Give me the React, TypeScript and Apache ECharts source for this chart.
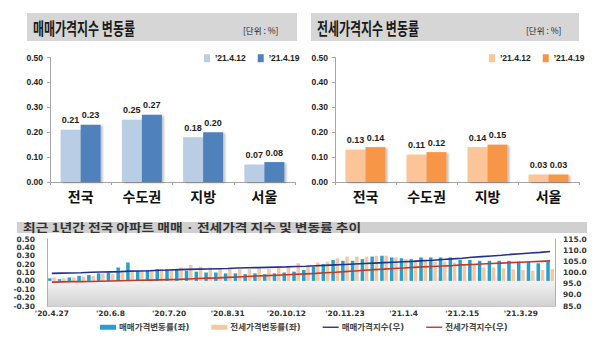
import React, { useEffect, useRef } from 'react';
import * as echarts from 'echarts';

const regions = ['전국', '수도권', '지방', '서울'];
const saleApr12 = [0.21, 0.25, 0.18, 0.07];
const saleApr19 = [0.23, 0.27, 0.2, 0.08];
const jeonseApr12 = [0.13, 0.11, 0.14, 0.03];
const jeonseApr19 = [0.14, 0.12, 0.15, 0.03];

const weeks = [
  "'20.4.27", "'20.5.4", "'20.5.11", "'20.5.18", "'20.5.25", "'20.6.1", "'20.6.8", "'20.6.15", "'20.6.22", "'20.6.29",
  "'20.7.6", "'20.7.13", "'20.7.20", "'20.7.27", "'20.8.3", "'20.8.10", "'20.8.17", "'20.8.24", "'20.8.31", "'20.9.7",
  "'20.9.14", "'20.9.21", "'20.9.28", "'20.10.5", "'20.10.12", "'20.10.19", "'20.10.26", "'20.11.2", "'20.11.9", "'20.11.16",
  "'20.11.23", "'20.11.30", "'20.12.7", "'20.12.14", "'20.12.21", "'20.12.28", "'21.1.4", "'21.1.11", "'21.1.18", "'21.1.25",
  "'21.2.1", "'21.2.8", "'21.2.15", "'21.2.22", "'21.3.1", "'21.3.8", "'21.3.15", "'21.3.22", "'21.3.29", "'21.4.5",
  "'21.4.12", "'21.4.19",
];
const saleChange = [
  0.03, 0.02, 0.04, 0.06, 0.07, 0.09, 0.1, 0.16, 0.22, 0.12,
  0.13, 0.14, 0.14, 0.13, 0.12, 0.11, 0.1, 0.1, 0.09, 0.09,
  0.08, 0.09, 0.08, 0.09, 0.1, 0.11, 0.13, 0.17, 0.2, 0.25,
  0.24, 0.24, 0.26, 0.29, 0.3, 0.28, 0.27, 0.26, 0.28, 0.28,
  0.28, 0.28, 0.25, 0.25, 0.24, 0.24, 0.24, 0.24, 0.23, 0.23,
  0.21, 0.23,
];
const jeonseChange = [
  0.04, 0.03, 0.04, 0.05, 0.06, 0.09, 0.08, 0.1, 0.11, 0.12,
  0.12, 0.14, 0.14, 0.16, 0.19, 0.17, 0.16, 0.15, 0.14, 0.14,
  0.14, 0.15, 0.14, 0.16, 0.16, 0.21, 0.18, 0.22, 0.23, 0.27,
  0.29, 0.29, 0.29, 0.3, 0.3, 0.28, 0.26, 0.25, 0.24, 0.23,
  0.23, 0.22, 0.19, 0.19, 0.16, 0.16, 0.15, 0.14, 0.13, 0.12,
  0.13, 0.14,
];
const saleIndex = [
  99.6, 99.7, 99.8, 99.9, 100.1, 100.2, 100.3, 100.4, 100.6, 100.7,
  100.8, 101.0, 101.1, 101.3, 101.4, 101.5, 101.6, 101.7, 101.8, 102.0,
  102.1, 102.2, 102.3, 102.4, 102.5, 102.7, 102.8, 103.0, 103.2, 103.4,
  103.6, 103.8, 104.0, 104.2, 104.4, 104.6, 104.8, 105.0, 105.3, 105.5,
  105.8, 106.1, 106.4, 106.8, 107.1, 107.4, 107.7, 108.1, 108.4, 108.7,
  109.0, 109.4,
];
const jeonseIndex = [
  95.7, 95.8, 95.9, 95.9, 96.0, 96.1, 96.2, 96.3, 96.4, 96.5,
  96.6, 96.7, 96.8, 96.9, 97.1, 97.3, 97.5, 97.6, 97.8, 98.0,
  98.2, 98.4, 98.6, 98.8, 99.0, 99.2, 99.4, 99.6, 99.9, 100.1,
  100.4, 100.7, 101.0, 101.3, 101.5, 101.8, 102.0, 102.3, 102.5, 102.7,
  102.9, 103.1, 103.4, 103.6, 103.8, 104.0, 104.2, 104.4, 104.6, 104.8,
  105.0, 105.2,
];

const SANS = '"Liberation Sans", "Noto Sans CJK KR", sans-serif';
const WIDE = '"DejaVu Sans", "Noto Sans CJK KR", sans-serif';

function topBar(name: string, data: number[], color: string, axis: number) {
  return {
    name,
    type: 'bar',
    xAxisIndex: axis,
    yAxisIndex: axis,
    data,
    barWidth: 20,
    barGap: '0%',
    itemStyle: { color, shadowColor: 'rgba(0,0,0,0.25)', shadowOffsetX: 2, shadowOffsetY: 1, shadowBlur: 2 },
    label: {
      show: true,
      position: 'top',
      distance: 5,
      fontSize: 9,
      fontWeight: 'bold',
      fontFamily: SANS,
      color: '#222',
      formatter: (p: any) => Number(p.value).toFixed(2),
    },
  };
}

function topX(grid: number) {
  return {
    type: 'category',
    gridIndex: grid,
    data: regions,
    axisLine: { lineStyle: { color: '#a6a6a6' } },
    axisTick: { show: true, length: 3, lineStyle: { color: '#a6a6a6' } },
    axisLabel: { fontSize: 14, fontWeight: 'bold', color: '#111', margin: 8, fontFamily: SANS },
  };
}

function topY(grid: number) {
  return {
    type: 'value',
    gridIndex: grid,
    min: 0,
    max: 0.5,
    interval: 0.1,
    splitLine: { show: false },
    axisLine: { show: true, lineStyle: { color: '#a6a6a6' } },
    axisTick: { show: true, length: 3, lineStyle: { color: '#a6a6a6' } },
    axisLabel: {
      fontSize: 8.5,
      fontWeight: 'bold',
      color: '#222',
      margin: 7,
      fontFamily: SANS,
      formatter: (v: number) => v.toFixed(2),
    },
  };
}

export default function App() {
  const ref = useRef<HTMLDivElement>(null);
  useEffect(() => {
    if (!ref.current) return;
    const chart = echarts.init(ref.current, undefined, { renderer: 'svg' });
    const option: any = {
      animation: false,
      backgroundColor: '#ffffff',
      textStyle: { fontFamily: SANS },
      grid: [
        { left: 50, right: 305, top: 57.5, bottom: 162 },
        { left: 335, right: 21, top: 57.5, bottom: 162 },
        {
          left: 47,
          right: 45,
          top: 239,
          bottom: 38,
          show: true,
          borderWidth: 0,
          backgroundColor: new echarts.graphic.LinearGradient(0, 0, 0, 1, [
            { offset: 0, color: '#ffffff' },
            { offset: 0.5, color: '#ffffff' },
            { offset: 1, color: '#d2d2d2' },
          ]),
        },
      ],
      legend: [
        {
          data: ['’21.4.12|매매', '’21.4.19|매매'],
          left: 199,
          top: 49,
          itemWidth: 6,
          itemHeight: 8,
          itemGap: 12,
          icon: 'rect',
          formatter: (n: string) => n.split('|')[0],
          textStyle: { fontSize: 8.5, fontWeight: 'bold', color: '#222', fontFamily: SANS },
        },
        {
          data: ['’21.4.12|전세', '’21.4.19|전세'],
          left: 484,
          top: 49,
          itemWidth: 6,
          itemHeight: 8,
          itemGap: 12,
          icon: 'rect',
          formatter: (n: string) => n.split('|')[0],
          textStyle: { fontSize: 8.5, fontWeight: 'bold', color: '#222', fontFamily: SANS },
        },
        {
          data: [
            { name: '매매가격변동률(좌)', icon: 'path://M0,0 H16 V5 H0 Z' },
            { name: '전세가격변동률(좌)', icon: 'path://M0,0 H16 V5 H0 Z' },
            { name: '매매가격지수(우)', icon: 'path://M0,0 H16 V1.4 H0 Z' },
            { name: '전세가격지수(우)', icon: 'path://M0,0 H16 V1.4 H0 Z' },
          ],
          left: 95,
          top: 318,
          itemWidth: 16,
          itemHeight: 5,
          itemGap: 22,
          textStyle: { fontSize: 8.5, fontWeight: 'bold', color: '#444', fontFamily: WIDE, padding: [0, 0, 0, -2] },
        },
      ],
      xAxis: [
        topX(0),
        topX(1),
        {
          type: 'category',
          gridIndex: 2,
          data: weeks,
          axisLine: { show: true, onZero: false, lineStyle: { color: '#c8c8c8' } },
          axisTick: { show: false },
          axisLabel: { interval: 5, fontSize: 7.5, fontWeight: 'bold', color: '#333', margin: 4, fontFamily: WIDE },
        },
      ],
      yAxis: [
        topY(0),
        topY(1),
        {
          type: 'value',
          gridIndex: 2,
          min: -0.3,
          max: 0.5,
          interval: 0.1,
          splitLine: { show: false },
          axisLine: { show: true, lineStyle: { color: '#b0b0b0' } },
          axisTick: { show: false },
          axisLabel: {
            fontSize: 7.5,
            fontWeight: 'bold',
            color: '#333',
            margin: 12,
            fontFamily: WIDE,
            formatter: (v: number) => v.toFixed(2),
          },
        },
        {
          type: 'value',
          gridIndex: 2,
          position: 'right',
          min: 85,
          max: 115,
          interval: 5,
          splitLine: { show: false },
          axisLine: { show: true, lineStyle: { color: '#b0b0b0' } },
          axisTick: { show: false },
          axisLabel: {
            fontSize: 7.5,
            fontWeight: 'bold',
            color: '#333',
            margin: 8,
            fontFamily: WIDE,
            formatter: (v: number) => v.toFixed(1),
          },
        },
      ],
      series: [
        topBar('’21.4.12|매매', saleApr12, '#b9cde5', 0),
        topBar('’21.4.19|매매', saleApr19, '#4f81bd', 0),
        topBar('’21.4.12|전세', jeonseApr12, '#fbc597', 1),
        topBar('’21.4.19|전세', jeonseApr19, '#f79646', 1),
        {
          name: '매매가격변동률(좌)',
          type: 'bar',
          xAxisIndex: 2,
          yAxisIndex: 2,
          data: saleChange,
          barWidth: 3.5,
          barGap: '20%',
          itemStyle: { color: '#25a0d0' },
        },
        {
          name: '전세가격변동률(좌)',
          type: 'bar',
          xAxisIndex: 2,
          yAxisIndex: 2,
          data: jeonseChange,
          barWidth: 3.5,
          barGap: '20%',
          itemStyle: { color: '#f5c8a2' },
        },
        {
          name: '매매가격지수(우)',
          type: 'line',
          xAxisIndex: 2,
          yAxisIndex: 3,
          data: saleIndex,
          showSymbol: false,
          symbol: 'none',
          lineStyle: { color: '#27318c', width: 1.6 },
          itemStyle: { color: '#27318c' },
        },
        {
          name: '전세가격지수(우)',
          type: 'line',
          xAxisIndex: 2,
          yAxisIndex: 3,
          data: jeonseIndex,
          showSymbol: false,
          symbol: 'none',
          lineStyle: { color: '#c0392b', width: 1.6 },
          itemStyle: { color: '#c0392b' },
        },
      ],
      graphic: [
        { type: 'rect', shape: { x: 27, y: 13, width: 270, height: 28 }, style: { fill: '#d6d6d6' }, z: -1 },
        {
          type: 'text',
          x: 33,
          y: 28,
          scaleX: 0.8,
          scaleY: 1.1,
          style: {
            text: '매매가격지수 변동률',
            font: 'bold 15px "Noto Sans CJK KR", sans-serif',
            fill: '#1a1a1a',
            textVerticalAlign: 'middle',
          },
        },
        {
          type: 'text',
          x: 243,
          y: 30,
          style: { text: '[단위 : %]', font: '8.5px "Noto Sans CJK KR", sans-serif', fill: '#222', textVerticalAlign: 'middle' },
        },
        { type: 'rect', shape: { x: 311, y: 13, width: 268, height: 28 }, style: { fill: '#d6d6d6' }, z: -1 },
        {
          type: 'text',
          x: 317,
          y: 28,
          scaleX: 0.8,
          scaleY: 1.1,
          style: {
            text: '전세가격지수 변동률',
            font: 'bold 15px "Noto Sans CJK KR", sans-serif',
            fill: '#1a1a1a',
            textVerticalAlign: 'middle',
          },
        },
        {
          type: 'text',
          x: 526,
          y: 30,
          style: { text: '[단위 : %]', font: '8.5px "Noto Sans CJK KR", sans-serif', fill: '#222', textVerticalAlign: 'middle' },
        },
        { type: 'rect', shape: { x: 17, y: 222, width: 570, height: 11 }, style: { fill: '#d0d0d0' }, z: -1 },
        {
          type: 'text',
          x: 23,
          y: 227.5,
          scaleX: 1.25,
          style: {
            text: '최근 1년간 전국 아파트 매매 · 전세가격 지수 및 변동률 추이',
            font: 'bold 11px "Noto Sans CJK KR", sans-serif',
            fill: '#333',
            textVerticalAlign: 'middle',
          },
        },
      ],
    };
    chart.setOption(option);
    return () => chart.dispose();
  }, []);
  return <div ref={ref} style={{ position: 'absolute', left: 0, top: 0, width: 600, height: 344 }} />;
}
